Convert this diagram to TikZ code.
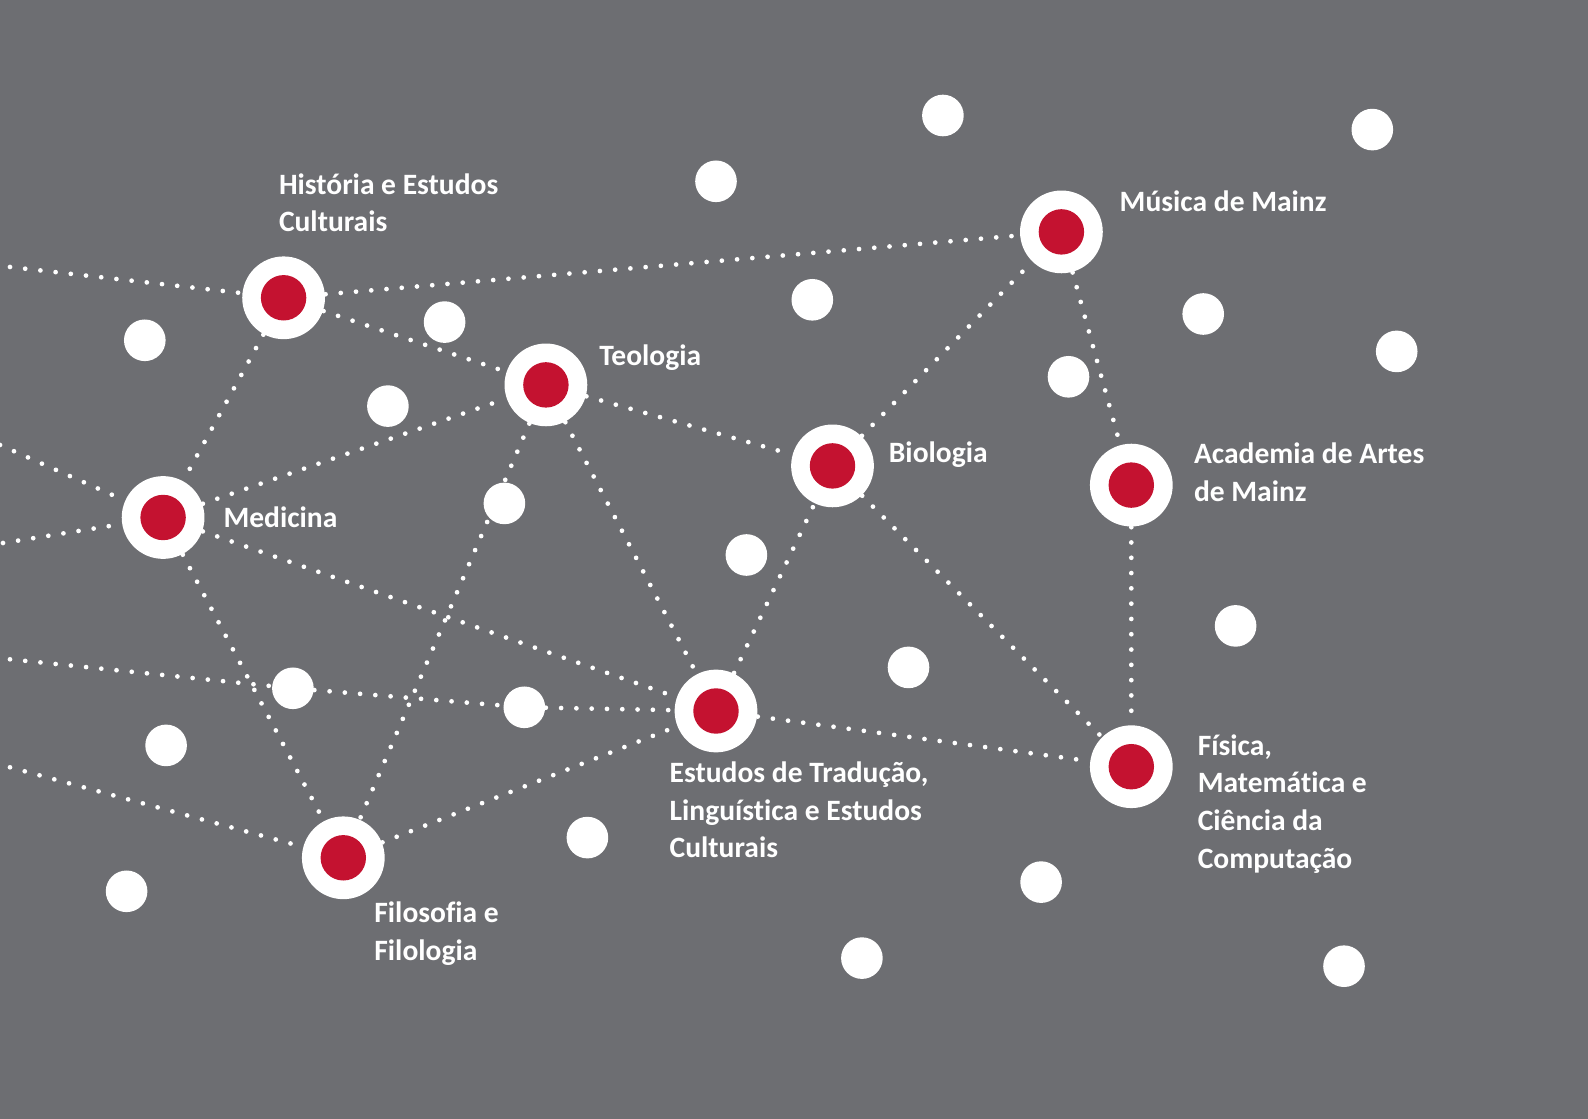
\documentclass[tikz,border=0pt]{standalone}
\usepackage{fontspec}
\setmainfont[Ligatures=CommonOff]{Carlito}
\definecolor{slate}{HTML}{6D6E72}
\definecolor{unired}{HTML}{C41230}

\begin{document}
\begin{tikzpicture}[x=0.01cm, y=-0.01cm,
    hub/.style={circle, fill=white, minimum size=8.27mm, inner sep=0pt,
      path picture={\fill[unired] (path picture bounding box.center) circle (2.27mm);}},
    spot/.style={circle, fill=white, minimum size=4.16mm, inner sep=0pt},
    link/.style={white, line width=1.34pt, line cap=round, dash pattern=on 0pt off 4.35pt},
    lbl/.style={anchor=base west, align=left, text=white, inner sep=0pt,
      font=\fontsize{8.4}{10.67}\selectfont\bfseries}]

    % Background
    \fill[slate] (0,0) rectangle (1588,1119);
    \useasboundingbox (0,0) rectangle (1588,1119);

    % Faculties
    \node[hub] (hist) at (283.6, 297.8) {};
    \node[hub] (teol) at (545.9, 384.9) {};
    \node[hub] (med)  at (163.1, 517.5) {};
    \node[hub] (bio)  at (832.5, 465.9) {};
    \node[hub] (mus)  at (1061.4, 231.9) {};
    \node[hub] (acad) at (1131.3, 485.1) {};
    \node[hub] (trad) at (716.0, 711.0) {};
    \node[hub] (fis)  at (1131.3, 766.7) {};
    \node[hub] (filo) at (343.3, 857.8) {};

    % Loose dots
    \node[spot] (s1)  at (942.9, 115.5) {};
    \node[spot] (s2)  at (1372.3, 129.6) {};
    \node[spot] (s3)  at (716.0, 181.3) {};
    \node[spot] (s4)  at (812.3, 299.8) {};
    \node[spot] (s5)  at (1203.2, 314.0) {};
    \node[spot] (s6)  at (1396.7, 351.4) {};
    \node[spot] (s7)  at (144.8, 340.3) {};
    \node[spot] (s8)  at (444.6, 322.1) {};
    \node[spot] (s9)  at (387.9, 406.1) {};
    \node[spot] (s10) at (1068.5, 376.8) {};
    \node[spot] (s11) at (504.4, 503.4) {};
    \node[spot] (s12) at (746.4, 555.0) {};
    \node[spot] (s13) at (1235.6, 625.9) {};
    \node[spot] (s14) at (908.5, 667.4) {};
    \node[spot] (s15) at (292.9, 688.3) {};
    \node[spot] (s16) at (524.3, 707.3) {};
    \node[spot] (s17) at (166.1, 745.4) {};
    \node[spot] (s18) at (587.4, 837.6) {};
    \node[spot] (s19) at (1041.1, 882.1) {};
    \node[spot] (s20) at (126.6, 891.3) {};
    \node[spot] (s21) at (861.9, 958.1) {};
    \node[spot] (s22) at (1344.0, 966.2) {};

    % Loose ends at the left edge
    \coordinate (in1) at (10, 267);
    \coordinate (in2) at (0, 445);
    \coordinate (in3) at (3, 543);
    \coordinate (in4) at (10, 659.3);
    \coordinate (in5) at (10, 767.3);

    % Links
    \draw[link] (in1) -- (hist);
    \draw[link] (in2) -- (med);
    \draw[link] (in3) -- (med);
    \draw[link] (in4) -- (s15) -- (s16) -- (trad);
    \draw[link] (in5) -- (filo);
    \draw[link] (hist) -- (mus);
    \draw[link] (hist) -- (teol);
    \draw[link] (hist) -- (med);
    \draw[link] (med) -- (teol);
    \draw[link] (med) -- (trad);
    \draw[link] (med) -- (filo);
    \draw[link] (teol) -- (bio);
    \draw[link] (teol) -- (trad);
    \draw[link] (teol) -- (filo);
    \draw[link] (filo) -- (trad);
    \draw[link] (trad) -- (bio);
    \draw[link] (trad) -- (fis);
    \draw[link] (bio) -- (mus);
    \draw[link] (bio) -- (fis);
    \draw[link] (mus) -- (acad);
    \draw[link] (acad) -- (fis);

    % Labels (base = baseline of the last line)
    \node[lbl] (histL) at (278.3, 231.8) {História e Estudos\\Culturais};
    \node[lbl] (teolL) at (598.6, 365.6) {Teologia};
    \node[lbl] (medL)  at (222.8, 527.7) {Medicina};
    \node[lbl] (bioL)  at (888.2, 462.9) {Biologia};
    \node[lbl] (musL)  at (1119.0, 211.7) {Música de Mainz};
    \node[lbl] (acadL) at (1193.3, 501.3) {Academia de Artes\\de Mainz};
    \node[lbl] (tradL) at (669.0, 857.8) {Estudos de Tradução,\\Linguística e Estudos\\Culturais};
    \node[lbl] (fisL)  at (1197.1, 868.0) {Física,\\Matemática e\\Ciência da\\Computação};
    \node[lbl] (filoL) at (373.7, 960.1) {Filosofia e\\Filologia};
\end{tikzpicture}
\end{document}
